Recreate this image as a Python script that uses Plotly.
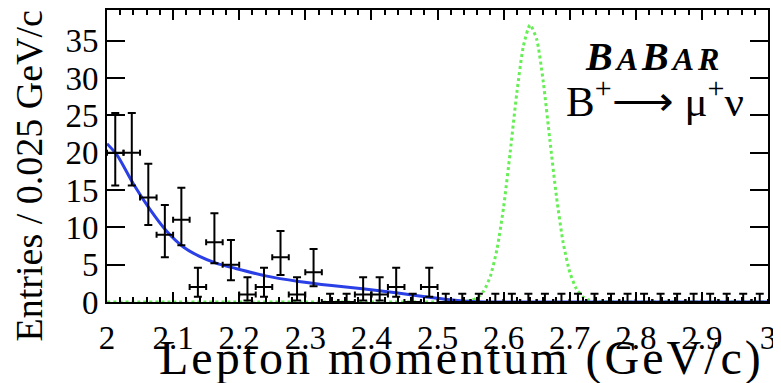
import plotly.graph_objects as go

# ---- data ----
bin_centers = [2.0125, 2.0375, 2.0625, 2.0875, 2.1125, 2.1375, 2.1625, 2.1875, 2.2125, 2.2375,
               2.2625, 2.2875, 2.3125, 2.3375, 2.3625, 2.3875, 2.4125, 2.4375, 2.4625, 2.4875,
               2.5125, 2.5375, 2.5625, 2.5875, 2.6125, 2.6375, 2.6625, 2.6875, 2.7125, 2.7375,
               2.7625, 2.7875, 2.8125, 2.8375, 2.8625, 2.8875, 2.9125, 2.9375, 2.9625, 2.9875]
counts = [20, 20, 14, 9, 11, 2, 8, 5, 1, 2,
          6, 1, 4, 0, 0, 1, 1, 2, 0, 2,
          0, 0, 0, 0, 0, 0, 0, 0, 0, 0,
          0, 0, 0, 0, 0, 0, 0, 0, 0, 0]
err_up = [5.3, 5.3, 4.5, 4.0, 4.3, 2.6, 3.9, 3.3, 2.3, 2.6,
          3.5, 2.3, 3.1, 1.1, 1.1, 2.3, 2.3, 2.6, 1.1, 2.6,
          1.1, 1.1, 1.1, 1.1, 1.1, 1.1, 1.1, 1.1, 1.1, 1.1,
          1.1, 1.1, 1.1, 1.1, 1.1, 1.1, 1.1, 1.1, 1.1, 1.1]
err_down = [4.4, 4.4, 3.7, 3.0, 3.4, 1.3, 2.8, 2.1, 0.8, 1.3,
            2.4, 0.8, 1.9, 0, 0, 0.8, 0.8, 1.3, 0, 1.3,
            0, 0, 0, 0, 0, 0, 0, 0, 0, 0,
            0, 0, 0, 0, 0, 0, 0, 0, 0, 0]
bin_half_width = 0.0125

# background fit (blue)
bkg_x = [2.0, 2.015, 2.04, 2.065, 2.09, 2.115, 2.14, 2.165, 2.19, 2.24, 2.29, 2.34, 2.39, 2.44, 2.49, 2.53, 2.56, 2.6, 2.8, 3.0]
bkg_y = [21.2, 19.7, 15.8, 12.4, 9.5, 7.4, 6.1, 5.2, 4.6, 3.5, 2.75, 2.2, 1.75, 1.2, 0.6, 0.2, 0.05, 0.0, 0.0, 0.0]

# signal shape (green dotted)
sig_x = [2.0, 2.3, 2.5, 2.54, 2.55, 2.56, 2.57, 2.58, 2.59, 2.60, 2.61, 2.62, 2.63, 2.64, 2.65,
         2.66, 2.67, 2.68, 2.69, 2.70, 2.71, 2.72, 2.73, 2.74, 2.8, 2.9, 3.0]
sig_y = [0, 0, 0, 0.05, 0.19, 0.57, 1.49, 3.46, 7.06, 12.7, 20.1, 28.0, 34.3, 37.1, 35.2,
         29.5, 21.7, 14.1, 8.0, 4.03, 1.78, 0.69, 0.24, 0.07, 0, 0, 0]

x_ticks = [2.0, 2.1, 2.2, 2.3, 2.4, 2.5, 2.6, 2.7, 2.8, 2.9, 3.0]
x_tick_text = ["2", "2.1", "2.2", "2.3", "2.4", "2.5", "2.6", "2.7", "2.8", "2.9", "3"]
y_ticks = [0, 5, 10, 15, 20, 25, 30, 35]

SERIF = "Liberation Serif, Times New Roman, serif"

fig = go.Figure()

fig.add_trace(go.Scatter(
    x=sig_x, y=sig_y, mode="lines", line=dict(color="#66ee55", width=3, dash="dot", shape="spline", smoothing=0.6),
    hoverinfo="skip", showlegend=False))

fig.add_trace(go.Scatter(
    x=bkg_x, y=bkg_y, mode="lines", line=dict(color="#2a3fe6", width=3, shape="spline", smoothing=0.8),
    hoverinfo="skip", showlegend=False))

fig.add_trace(go.Scatter(
    x=bin_centers, y=counts, mode="markers",
    marker=dict(size=1, color="black"),
    error_y=dict(type="data", symmetric=False, array=err_up, arrayminus=err_down,
                 color="black", thickness=2, width=4),
    error_x=dict(type="constant", value=bin_half_width, color="black", thickness=2, width=3),
    showlegend=False))

# the page body adds an 8px offset, so the figure is 8px smaller and margins shifted
fig.update_layout(
    width=773, height=375,
    margin=dict(l=99, r=13, t=2, b=81, autoexpand=False),
    paper_bgcolor="white", plot_bgcolor="white",
    font=dict(family=SERIF, color="black"),
    showlegend=False,
)

fig.update_xaxes(
    range=[2, 3], tickmode="array", tickvals=x_ticks, ticktext=x_tick_text, tickangle=0,
    ticks="inside", ticklen=10, tickwidth=2, tickcolor="black",
    minor=dict(dtick=0.02, tick0=2.0, ticks="inside", ticklen=5, tickwidth=2, tickcolor="black", showgrid=False),
    showline=True, linecolor="black", linewidth=2, mirror="allticks",
    showgrid=False, zeroline=False, automargin=False, ticklabelstandoff=5,
    tickfont=dict(family=SERIF, size=33, color="black"),
)
fig.update_yaxes(
    range=[0, 39.1], tickmode="array", tickvals=y_ticks,
    ticks="inside", ticklen=18, tickwidth=2, tickcolor="black",
    showline=True, linecolor="black", linewidth=2, mirror="allticks",
    showgrid=False, zeroline=False, automargin=False,
    tickfont=dict(family=SERIF, size=33, color="black"),
)

fig.add_annotation(
    text="Entries / 0.025 GeV/c", textangle=-90, xref="paper", yref="paper",
    x=-0.118, y=0.43, xanchor="center", yanchor="middle", showarrow=False,
    font=dict(family=SERIF, size=38, color="black"))
fig.add_annotation(
    text="<span style='letter-spacing:3px'>Lepton momentum (GeV/c)</span>", xref="paper", yref="paper",
    x=0.537, y=-0.193, xanchor="center", yanchor="middle", showarrow=False,
    font=dict(family=SERIF, size=48, color="black"))
fig.add_annotation(
    text="<b><i><span style='letter-spacing:4px'>B<span style='font-size:32px'>A</span>B<span style='font-size:32px'>AR</span></span></i></b>",
    xref="paper", yref="paper", x=0.8275, y=0.84, xanchor="center", yanchor="middle", showarrow=False,
    font=dict(family=SERIF, size=40, color="black"))
fig.add_annotation(
    text="B<sup>+</sup>\u27f6 \u03bc<sup>+</sup>\u03bd",
    xref="paper", yref="paper", x=0.829, y=0.70, xanchor="center", yanchor="middle", showarrow=False,
    font=dict(family=SERIF, size=43, color="black"))

fig.write_html("out.html")
